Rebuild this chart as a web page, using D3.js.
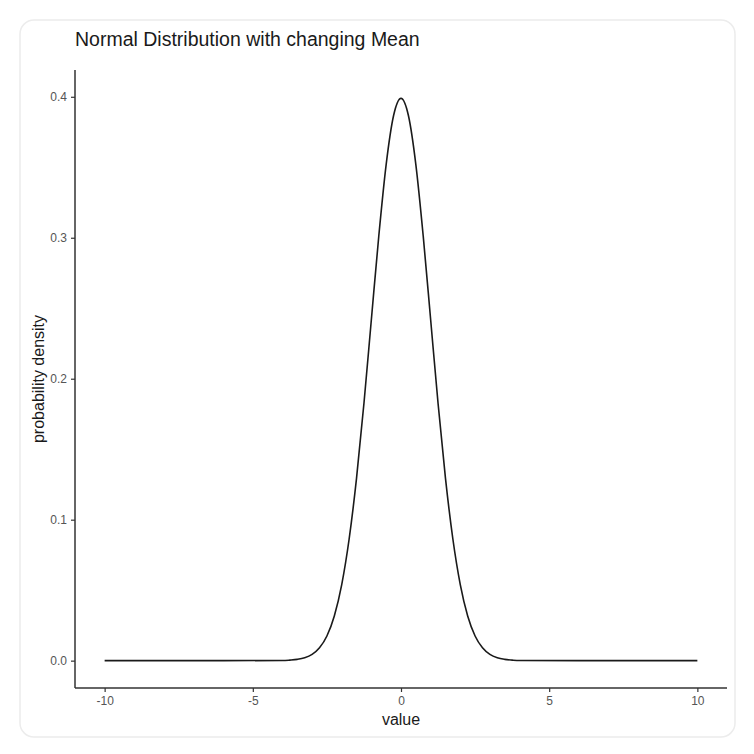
<!DOCTYPE html>
<html>
<head>
<meta charset="utf-8">
<script src="https://cdn.jsdelivr.net/npm/d3@7"></script>
<style>
  body { margin: 0; background: #fff; }
  svg { display: block; font-family: "Liberation Sans", Arial, sans-serif; }
</style>
</head>
<body>
<svg id="chart" width="754" height="754"></svg>
<script>
// values
const xValues = [-10, -6, -4, -3.75, -3.5, -3.25, -3, -2.75, -2.5, -2.25, -2, -1.75, -1.5, -1.25, -1, -0.75, -0.5, -0.25,
                 0, 0.25, 0.5, 0.75, 1, 1.25, 1.5, 1.75, 2, 2.25, 2.5, 2.75, 3, 3.25, 3.5, 3.75, 4, 6, 10];
const densities = [0, 0, 0.0001, 0.0004, 0.0009, 0.0020, 0.0044, 0.0091, 0.0175, 0.0317, 0.0540, 0.0863, 0.1295, 0.1826, 0.2420, 0.3011, 0.3521, 0.3867,
                   0.3989, 0.3867, 0.3521, 0.3011, 0.2420, 0.1826, 0.1295, 0.0863, 0.0540, 0.0317, 0.0175, 0.0091, 0.0044, 0.0020, 0.0009, 0.0004, 0.0001, 0, 0];
const xTicks = [-10, -5, 0, 5, 10];
const xTickLabels = ["-10", "-5", "0", "5", "10"];
const yTicks = [0, 0.1, 0.2, 0.3, 0.4];
const yTickLabels = ["0.0", "0.1", "0.2", "0.3", "0.4"];

const svg = d3.select("#chart");

// card background
svg.append("rect")
  .attr("x", 20).attr("y", 20)
  .attr("width", 715).attr("height", 717)
  .attr("rx", 14).attr("ry", 14)
  .style("fill", "#fff")
  .style("stroke", "#ececec")
  .style("stroke-width", 1.5);

const PLOT_LEFT = 75, PLOT_RIGHT = 727, PLOT_TOP = 70, PLOT_BOTTOM = 688;

const x = d3.scaleLinear().domain([-11, 11]).range([PLOT_LEFT, PLOT_RIGHT]);
const y = d3.scaleLinear().domain([-0.0194, 0.419]).range([PLOT_BOTTOM, PLOT_TOP]);

const xAxis = svg.append("g")
  .attr("transform", `translate(0,${PLOT_BOTTOM})`)
  .call(d3.axisBottom(x).tickValues(xTicks).tickSize(4).tickPadding(4)
    .tickFormat((d, i) => xTickLabels[i]));
const yAxis = svg.append("g")
  .attr("transform", `translate(${PLOT_LEFT},0)`)
  .call(d3.axisLeft(y).tickValues(yTicks).tickSize(4).tickPadding(4)
    .tickFormat((d, i) => yTickLabels[i]));

[xAxis, yAxis].forEach(ax => {
  ax.select(".domain").style("stroke", "#333").style("stroke-width", 1.5);
  ax.selectAll(".tick line").style("stroke", "#333").style("stroke-width", 1.2);
  ax.selectAll(".tick text")
    .style("fill", "#555")
    .style("font-size", "12px")
    .style("font-family", "Liberation Sans, Arial, sans-serif");
});
// outer ticks off, axis spans full range
xAxis.select(".domain").attr("d", `M${PLOT_LEFT},0H${PLOT_RIGHT}`);
yAxis.select(".domain").attr("d", `M0,${PLOT_TOP}V${PLOT_BOTTOM}`);

const line = d3.line()
  .x((d, i) => x(xValues[i]))
  .y(d => y(d))
  .curve(d3.curveMonotoneX);

svg.append("path")
  .datum(densities)
  .attr("d", line)
  .style("fill", "none")
  .style("stroke", "#1a1a1a")
  .style("stroke-width", 1.6);

svg.append("text")
  .attr("x", 75).attr("y", 46)
  .text("Normal Distribution with changing Mean")
  .style("font-size", "19.5px")
  .style("fill", "#1a1a1a");

svg.append("text")
  .attr("x", 401).attr("y", 725)
  .attr("text-anchor", "middle")
  .text("value")
  .style("font-size", "16px")
  .style("fill", "#1a1a1a");

svg.append("text")
  .attr("transform", `translate(44,379) rotate(-90)`)
  .attr("text-anchor", "middle")
  .text("probability density")
  .style("font-size", "16px")
  .style("fill", "#1a1a1a");
</script>
</body>
</html>
